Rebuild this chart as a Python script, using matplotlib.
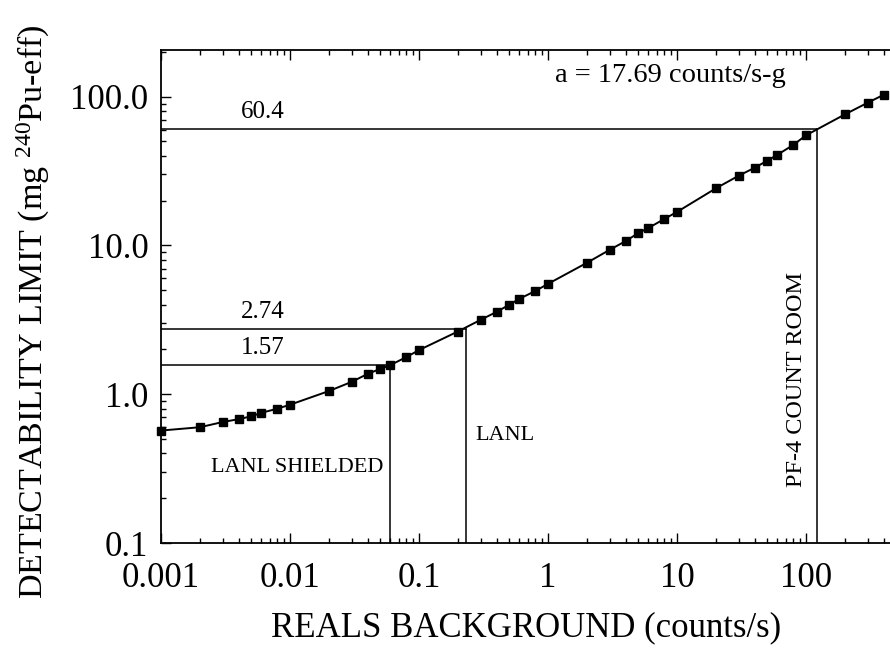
import matplotlib
matplotlib.use("Agg")
import matplotlib.pyplot as plt
from matplotlib.ticker import LogLocator, FixedLocator, FixedFormatter, NullFormatter

plt.rcParams['font.family'] = ['Liberation Serif', 'DejaVu Serif']
plt.rcParams['mathtext.fontset'] = 'custom'
plt.rcParams['mathtext.rm'] = 'Liberation Serif'
plt.rcParams['mathtext.default'] = 'regular'

# Reals background rate (counts/s) and detectability limit (mg 240Pu-eff)
background = [0.001, 0.002, 0.003, 0.004, 0.005, 0.006, 0.008,
              0.01, 0.02, 0.03, 0.04, 0.05, 0.06, 0.08,
              0.1, 0.2, 0.3, 0.4, 0.5, 0.6, 0.8,
              1, 2, 3, 4, 5, 6, 8,
              10, 20, 30, 40, 50, 60, 80,
              100, 200, 300, 400]
limit = [0.57, 0.60, 0.65, 0.68, 0.71, 0.75, 0.80,
         0.85, 1.05, 1.21, 1.37, 1.48, 1.57, 1.78,
         1.98, 2.64, 3.16, 3.58, 3.99, 4.38, 4.95,
         5.52, 7.64, 9.34, 10.7, 12.1, 13.1, 15.1,
         16.8, 24.2, 29.4, 33.3, 37.1, 40.7, 47.5,
         55.0, 76.0, 91.0, 103.0]

# Site backgrounds and the corresponding limits
sites = ["LANL SHIELDED", "LANL", "PF-4 COUNT ROOM"]
site_background = [0.06, 0.23, 122]
site_limit = [1.57, 2.74, 60.4]
site_limit_labels = ["1.57", "2.74", "60.4"]

x_ticks = [0.001, 0.01, 0.1, 1, 10, 100]
x_tick_labels = ["0.001", "0.01", "0.1", "1", "10", "100"]
y_ticks = [0.1, 1, 10, 100]
y_tick_labels = ["0.1", "1.0", "10.0", "100.0"]

W, H = 890, 652
fig = plt.figure(figsize=(W / 100, H / 100), dpi=100)
# the plotting area runs out past the right edge of the figure
ax = fig.add_axes([161 / W, (H - 543) / H, 774 / W, 493 / H])
ax.set_xscale('log')
ax.set_yscale('log')
ax.set_xlim(0.001, 1000)
ax.set_ylim(0.1, 206)

ax.plot(background, limit, color='black', lw=1.4, marker='s', ms=6.3,
        mec='black', mfc='black', zorder=3, clip_on=False)

xmin = ax.get_xlim()[0]
ymin = ax.get_ylim()[0]
for bx, ly in zip(site_background, site_limit):
    ax.plot([xmin, bx], [ly, ly], color='black', lw=1.1, zorder=2)
    ax.plot([bx, bx], [ymin, ly], color='black', lw=1.1, zorder=2)

# value labels above the horizontal lines
for ly, lab in zip(site_limit, site_limit_labels):
    ax.text(0.0062, ly * 1.3, lab, ha='center', va='center', fontsize=18)

ax.text(0.0525, 0.324, sites[0], ha='right', va='center', fontsize=16)
ax.text(0.272, 0.531, sites[1], ha='left', va='center', fontsize=16)
ax.text(85, 1.25, sites[2], ha='center', va='center', rotation=90,
        fontsize=17.5)
ax.text(555 / W, 1 - 76 / H, "a = 17.69 counts/s-g",
        transform=fig.transFigure, ha='left', va='center', fontsize=20.5)

ax.xaxis.set_major_locator(FixedLocator(x_ticks))
ax.xaxis.set_major_formatter(FixedFormatter(x_tick_labels))
ax.xaxis.set_minor_locator(LogLocator(base=10, subs=range(2, 10), numticks=20))
ax.xaxis.set_minor_formatter(NullFormatter())
ax.yaxis.set_major_locator(FixedLocator(y_ticks))
ax.yaxis.set_major_formatter(FixedFormatter(y_tick_labels))
ax.yaxis.set_minor_locator(LogLocator(base=10, subs=range(2, 10), numticks=20))
ax.yaxis.set_minor_formatter(NullFormatter())

ax.tick_params(which='both', direction='in', top=True, right=True,
               width=1.0, colors='black')
ax.tick_params(which='major', length=7, labelsize=25)
ax.tick_params(axis='x', which='major', pad=14)
ax.tick_params(axis='y', which='major', pad=9)
ax.tick_params(which='minor', length=3.5)
for s in ax.spines.values():
    s.set_linewidth(1.3)

# axis titles
fig.text(526 / W, 1 - 628 / H, "REALS BACKGROUND (counts/s)",
         ha='center', va='center', fontsize=25)
fig.text(33 / W, 1 - 312 / H, r"DETECTABILITY LIMIT (mg $^{240}$Pu-eff)",
         ha='center', va='center', rotation=90, fontsize=24.5)

fig.savefig("out.png", dpi=100)
